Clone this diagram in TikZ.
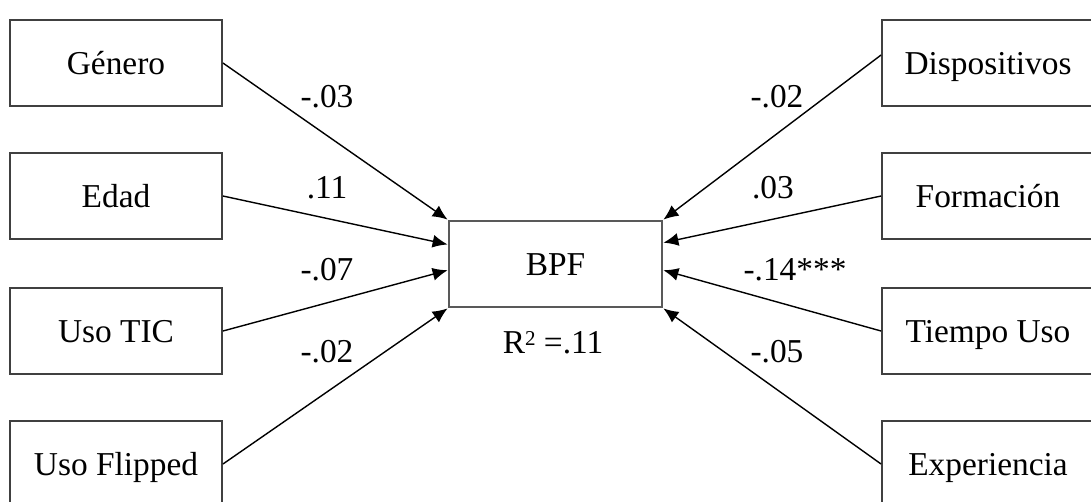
\documentclass[tikz,border=0pt]{standalone}
\usepackage{fontspec}
\setmainfont{Liberation Serif}
\usetikzlibrary{positioning, arrows.meta, calc}

\begin{document}
\begin{tikzpicture}[x=0.02cm, y=-0.02cm,
  font=\fontsize{19}{22}\selectfont,
  var/.style={draw=black!75, line width=1.1pt, minimum width=4.24cm,
    minimum height=1.72cm, inner sep=0pt, text height=12.6pt, text depth=0pt},
  path/.style={-{Latex[length=0.3cm,width=0.26cm]}, line width=0.8pt}]

\useasboundingbox (0,0) rectangle (1091,501);
\clip (0,0) rectangle (1091,501);

% predictors left
\node[var] (gen) at (116,63) {Género};
\node[var] (eda) at (116,196) {Edad};
\node[var] (tic) at (116,331) {Uso TIC};
\node[var] (fli) at (116,464) {Uso Flipped};
% predictors right
\node[var] (dis) at (988,63) {Dispositivos};
\node[var] (for) at (988,196) {Formación};
\node[var] (tie) at (988,331) {Tiempo Uso};
\node[var] (exp) at (988,464) {Experiencia};
%
\node[var, draw=black!65, line width=1.6pt, minimum width=4.26cm] (bpf) at (555.5,264) {BPF};
\node (r2) at (553,343) {R{\raisebox{0.55ex}{\fontsize{12}{12}\selectfont 2}} =.11};

\coordinate (l1) at ($(bpf.north west)!0.28!(bpf.south west)$);
\coordinate (l2) at ($(bpf.north west)!0.57!(bpf.south west)$);
\coordinate (r1) at ($(bpf.north east)!0.26!(bpf.south east)$);
\coordinate (r2c) at ($(bpf.north east)!0.57!(bpf.south east)$);

\draw[path] (gen.east) -- (bpf.north west);
\draw[path] (eda.east) -- (l1);
\draw[path] (tic.east) -- (l2);
\draw[path] (fli.east) -- (bpf.south west);

\draw[path] ($(dis.west)+(0,-8)$) -- (bpf.north east);
\draw[path] (for.west) -- (r1);
\draw[path] (tie.west) -- (r2c);
\draw[path] (exp.west) -- (bpf.south east);

% coefficients
\node (cgen) at (327,97) {-.03};
\node (ceda) at (327,188) {.11};
\node (ctic) at (327,270) {-.07};
\node (cfli) at (327,352) {-.02};
\node (cdis) at (777,97) {-.02};
\node (cfor) at (773,188) {.03};
\node (ctie) at (795,270) {-.14***};
\node (cexp) at (777,352) {-.05};

\end{tikzpicture}
\end{document}
